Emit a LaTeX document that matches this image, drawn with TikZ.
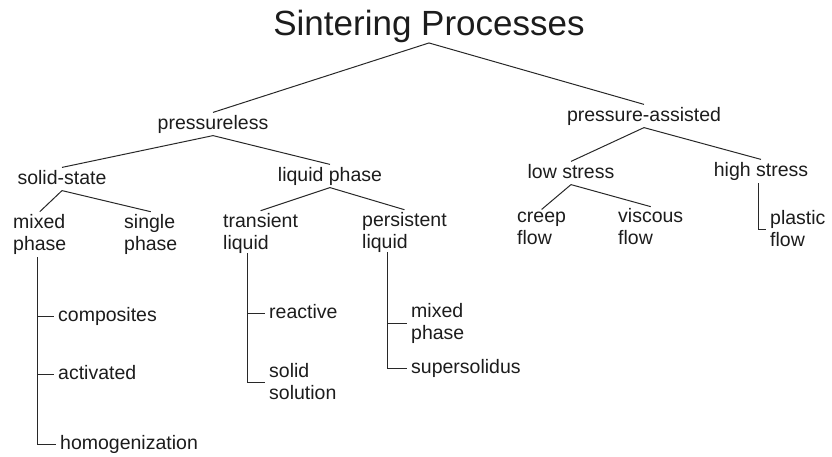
\documentclass[tikz,border=0pt]{standalone}
\usepackage{fontspec}
\setmainfont{Liberation Sans}
\usepackage{xcolor}
\definecolor{ink}{RGB}{28, 28, 28}
\definecolor{wire}{RGB}{40, 40, 40}
\usepackage{tikz}
\usetikzlibrary{positioning, calc}
\tikzset{
  titlebox/.style={font=\fontsize{35}{38}\selectfont, text=ink,
    inner sep=2pt, text height=25pt, text depth=5.5pt},
  catbox/.style={font=\fontsize{19.5}{22}\selectfont, text=ink,
    inner sep=2pt, text height=14.5pt, text depth=4.3pt},
  leafbox/.style={catbox, anchor=west, inner xsep=4pt},
  pairbox/.style={font=\fontsize{19.5}{22}\selectfont, text=ink,
    inner xsep=4pt, inner ysep=2pt, anchor=west, align=left},
  branch/.style={draw=wire, line width=1pt},
  stem/.style={draw=wire, line width=1pt}
}

\begin{document}
\begin{tikzpicture}[x=1pt, y=-1pt]
  \useasboundingbox (0,0) rectangle (832,456);

  %% Title
  \node[titlebox] (title) at (429,25.5) {Sintering Processes};

  %% Second level
  \node[catbox] (pressureless) at (213,124) {pressureless};
  \node[catbox] (assisted) at (644,116) {pressure-assisted};

  %% Third level
  \node[catbox] (solid) at (62,179) {solid-state};
  \node[catbox] (liquid) at (330,176) {liquid phase};
  \node[catbox] (lowstress) at (571,173) {low stress};
  \node[catbox] (highstress) at (761,171) {high stress};

  %% Fourth level
  \node[pairbox] (mixed) at (9,234) {mixed\\phase};
  \node[pairbox] (single) at (120,234) {single\\phase};
  \node[pairbox] (transient) at (219,233) {transient\\liquid};
  \node[pairbox] (persistent) at (358,232) {persistent\\liquid};
  \node[pairbox] (creep) at (513,228) {creep\\flow};
  \node[pairbox] (viscous) at (614,227) {viscous\\flow};
  \node[pairbox] (plastic) at (766,229) {plastic\\flow};

  %% Leaves
  \node[leafbox] (composites) at (54,316) {composites};
  \node[leafbox] (activated) at (54,374) {activated};
  \node[leafbox] (homog) at (56,444) {homogenization};
  \node[leafbox] (reactive) at (265,313) {reactive};
  \node[pairbox] (solsol) at (265,382) {solid\\solution};
  \node[pairbox] (mixedlq) at (407,323) {mixed\\phase};
  \node[leafbox] (supersol) at (407,368) {supersolidus};

  %% Stem tops
  \coordinate (mixstem) at (37,257);
  \coordinate (transtem) at (247,253);
  \coordinate (perstem) at (387,252);
  \coordinate (highstem) at (758,183);

  %% Tree branches
  \draw[branch] (title.south) -- (pressureless.north);
  \draw[branch] (title.south) -- (assisted.north);
  \draw[branch] (pressureless.south) -- (solid.north);
  \draw[branch] (pressureless.south) -- (liquid.north);
  \draw[branch] (solid.south) -- (mixed.north);
  \draw[branch] (solid.south) -- (single.north);
  \draw[branch] (liquid.south) -- (transient.north);
  \draw[branch] (liquid.south) -- (persistent.north);
  \draw[branch] (assisted.south) -- (lowstress.north);
  \draw[branch] (assisted.south) -- (highstress.north);
  \draw[branch] (lowstress.south) -- (creep.north);
  \draw[branch] (lowstress.south) -- (viscous.north);

  %% Stems with ticks
  \draw[stem] (mixstem) |- (homog.west);
  \draw[stem] (mixstem |- composites.west) -- (composites.west);
  \draw[stem] (mixstem |- activated.west) -- (activated.west);
  \draw[stem] (transtem) |- (solsol.west);
  \draw[stem] (transtem |- reactive.west) -- (reactive.west);
  \draw[stem] (perstem) |- (supersol.west);
  \draw[stem] (perstem |- mixedlq.west) -- (mixedlq.west);
  \draw[stem] (highstem) |- (plastic.west);

\end{tikzpicture}
\end{document}
